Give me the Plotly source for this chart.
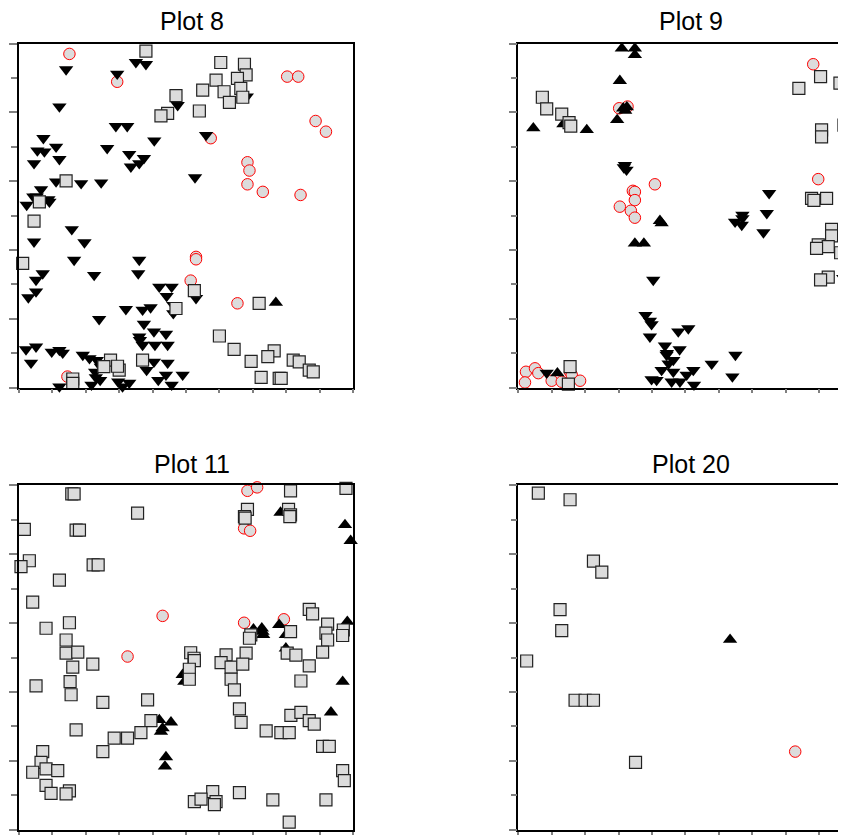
import plotly.graph_objects as go

# ---------------- data (axis units 0..10) ----------------
# Plot 8
p8_circ_x = [1.51, 2.94, 8.03, 8.36, 8.88, 9.19, 5.74, 6.84, 6.90, 6.84, 7.30, 8.43, 5.30, 5.30, 5.14, 6.54, 1.45]
p8_circ_y = [9.70, 8.89, 9.04, 9.04, 7.75, 7.44, 7.25, 6.55, 6.31, 5.91, 5.69, 5.60, 3.80, 3.73, 3.11, 2.45, 0.32]
p8_sq_x = [3.80, 6.04, 6.75, 6.80, 5.90, 6.54, 5.50, 6.14, 6.64, 6.70, 6.30, 4.70, 4.45, 4.25, 5.40,
           1.41, 0.61, 0.45, 0.11, 5.25, 4.70, 7.19, 2.74, 2.54, 3.00, 2.95, 3.70, 1.61, 1.61,
           6.00, 6.44, 6.95, 7.64, 7.45, 7.25, 7.79, 7.85, 8.21, 8.39, 8.69, 8.81]
p8_sq_y = [9.78, 9.45, 9.40, 9.09, 8.94, 8.99, 8.65, 8.60, 8.70, 8.44, 8.29, 8.49, 7.97, 7.90, 8.04,
           6.01, 5.40, 4.84, 3.61, 2.82, 2.30, 2.45, 0.80, 0.61, 0.51, 0.62, 0.80, 0.25, 0.12,
           1.50, 1.11, 0.76, 1.07, 0.90, 0.30, 0.27, 0.27, 0.80, 0.75, 0.51, 0.46]
p8_tup_x = [7.69]
p8_tup_y = [2.47]
p8_tdn_x = [1.41, 3.50, 3.80, 2.94, 6.82, 4.75, 1.21, 2.90, 3.24, 5.60, 4.05, 0.73, 0.55, 0.76, 1.11, 1.21,
            0.45, 2.64, 3.30, 3.74, 3.60, 3.35, 5.27, 1.11, 1.86, 2.46, 0.66, 0.43, 0.88, 0.23, 0.91, 0.53,
            1.58, 1.96, 0.45, 1.65, 3.60, 2.25, 3.57, 0.71, 0.51, 0.51, 0.28,
            4.20, 4.57, 4.42, 4.62, 4.62, 5.30, 3.20, 3.70, 3.94, 2.40, 3.74, 3.60, 3.62, 4.04, 4.40,
            3.70, 4.07, 4.45, 0.21, 0.51, 0.36, 0.98, 1.21, 1.31, 1.91, 2.11, 2.33, 2.28, 2.43, 2.17,
            1.21, 3.10, 2.97, 3.30, 3.82, 4.04, 4.45, 4.17, 4.57, 4.40, 4.90, 2.30, 2.45]
p8_tdn_y = [9.25, 9.46, 9.40, 9.12, 8.46, 8.21, 8.17, 7.60, 7.60, 7.34, 7.18, 7.25, 6.89, 6.86, 7.00, 6.64,
            6.52, 6.96, 6.79, 6.67, 6.52, 6.42, 6.11, 5.99, 5.94, 5.96, 5.76, 5.55, 5.47, 5.31, 5.40, 5.55,
            4.60, 4.22, 4.24, 3.71, 3.71, 3.27, 3.32, 3.32, 3.13, 2.79, 2.62,
            2.93, 2.93, 2.66, 2.40, 2.16, 2.60, 2.28, 2.26, 2.33, 1.99, 1.85, 1.48, 1.38, 1.63, 1.56,
            1.24, 1.24, 1.24, 1.11, 1.19, 0.72, 1.04, 1.09, 1.01, 0.95, 0.85, 0.80, 0.46, 0.22, 0.08,
            0.03, 0.03, 0.17, 0.14, 0.51, 0.75, 0.72, 0.22, 0.08, 0.37, 0.37, 0.30, 0.60]

# Plot 9
p9_circ_x = [3.02, 3.27, 4.09, 3.43, 3.49, 3.49, 3.04, 3.37, 3.49, 8.83, 8.98,
             0.23, 0.50, 0.60, 0.20, 1.00, 1.55, 1.60, 1.85, 1.30]
p9_circ_y = [8.12, 8.17, 5.91, 5.72, 5.69, 5.45, 5.26, 5.14, 4.94, 9.40, 6.06,
             0.46, 0.56, 0.42, 0.15, 0.20, 0.46, 0.37, 0.20, 0.17]
p9_sq_x = [0.72, 0.85, 1.30, 1.52, 1.57, 9.05, 8.40, 9.63, 9.80, 9.08, 9.08, 9.75, 8.78, 8.85, 9.23, 9.90,
           9.38, 9.38, 8.98, 9.28, 8.93, 9.65, 9.28, 9.05, 1.55, 1.50]
p9_sq_y = [8.44, 8.10, 7.95, 7.70, 7.60, 9.04, 8.70, 8.85, 9.21, 7.49, 7.29, 7.63, 5.50, 5.44, 5.50, 5.02,
           4.60, 4.41, 4.15, 4.10, 4.05, 3.92, 3.21, 3.13, 0.61, 0.10]
p9_tup_x = [3.10, 3.49, 3.49, 3.04, 2.96, 3.14, 3.25, 3.20, 0.45, 2.05, 1.35, 4.24, 4.29, 3.49, 3.76, 1.17]
p9_tup_y = [9.86, 9.86, 9.67, 8.92, 7.78, 8.12, 8.15, 8.05, 7.54, 7.49, 7.66, 4.85, 4.78, 4.19, 4.19, 0.42]
p9_tdn_x = [3.19, 3.24, 3.16, 7.51, 6.71, 6.71, 6.49, 6.69, 7.44, 7.34, 9.73, 4.04,
            3.81, 3.94, 3.99, 3.94, 4.79, 5.09, 4.39, 4.83, 4.44, 4.64, 4.29, 4.64, 5.24, 5.04,
            4.14, 4.59, 4.84, 5.26, 5.79, 6.50, 6.41, 3.99, 0.85, 4.50, 4.45]
p9_tdn_y = [6.47, 6.33, 6.40, 5.65, 5.02, 4.92, 4.82, 4.73, 5.07, 4.51, 3.18, 3.13,
            2.11, 1.94, 1.84, 1.48, 1.63, 1.72, 1.22, 1.11, 0.95, 0.80, 0.51, 0.46, 0.51, 0.37,
            0.22, 0.17, 0.17, 0.08, 0.69, 0.95, 0.32, 0.24, 0.43, 0.70, 1.00]

# Plot 11
p11_circ_x = [6.84, 7.13, 6.74, 6.92, 4.30, 6.74, 7.93, 3.25]
p11_circ_y = [9.84, 9.94, 8.75, 8.68, 6.21, 6.01, 6.11, 5.03]
p11_tup_x = [7.83, 9.76, 9.93, 9.83, 7.02, 7.27, 7.31, 7.29, 7.79, 7.99, 7.99,
             4.90, 4.95, 4.20, 4.55, 4.25, 4.30, 4.40, 4.37, 9.69, 9.34]
p11_tup_y = [9.21, 8.85, 8.39, 6.04, 5.82, 5.85, 5.66, 5.75, 5.95, 5.66, 5.27,
             4.50, 4.30, 3.19, 3.12, 2.85, 2.95, 2.11, 1.84, 4.30, 3.41]
p11_sq_x = [1.58, 1.65, 3.55, 0.16, 1.71, 1.81, 0.31, 0.06, 2.22, 2.37, 1.21, 0.41, 1.51, 0.81, 1.41, 1.41, 1.76,
            8.13, 9.79, 6.84, 6.75, 6.77, 8.07, 8.13, 8.11, 6.94, 6.90, 8.13, 8.69, 8.79, 9.24, 9.19, 9.24,
            9.71, 9.69, 9.09, 5.14, 5.24, 6.20, 6.80, 8.03, 8.29,
            1.61, 2.21, 0.51, 1.53, 1.56, 2.51, 3.85, 1.71, 3.95, 2.85, 3.25, 3.65, 2.51, 0.71, 0.66,
            0.81, 0.41, 1.16, 0.81, 0.96, 1.51, 1.41,
            5.25, 5.10, 5.10, 6.05, 6.35, 6.70, 6.35, 6.45, 6.60, 6.65, 7.40, 7.84, 8.09, 8.14, 8.44,
            8.69, 8.84, 8.44, 8.69, 9.09, 9.29, 9.69, 9.74, 9.19, 7.60, 6.60, 5.80, 5.90, 5.25, 5.85,
            5.45, 8.09]
p11_sq_y = [9.75, 9.75, 9.19, 8.72, 8.70, 8.70, 7.81, 7.64, 7.69, 7.69, 7.25, 6.61, 6.01, 5.85, 5.51, 5.13, 5.16,
            9.84, 9.91, 9.30, 9.09, 9.05, 9.30, 9.14, 9.09, 5.66, 5.56, 5.75, 6.40, 6.27, 5.97, 5.71, 5.51,
            5.80, 5.64, 5.16, 5.14, 4.98, 5.08, 5.13, 5.13, 5.07,
            4.72, 4.81, 4.18, 4.30, 3.92, 3.70, 3.77, 2.90, 3.17, 2.66, 2.66, 2.82, 2.27, 2.27, 1.96,
            1.77, 1.67, 1.72, 1.29, 1.06, 1.13, 1.04,
            4.91, 4.66, 4.37, 4.85, 4.72, 4.81, 4.37, 4.06, 3.51, 3.12, 2.87, 2.82, 2.82, 3.32, 3.41,
            3.17, 3.07, 4.32, 4.76, 2.42, 2.42, 1.72, 1.43, 0.87, 0.87, 1.08, 1.11, 0.82, 0.82, 0.73,
            0.89, 0.22]

# Plot 20
p20_sq_x = [0.60, 1.55, 2.25, 2.50, 1.25, 1.30, 0.25, 1.70, 2.00, 2.25, 3.51]
p20_sq_y = [9.77, 9.58, 7.80, 7.48, 6.39, 5.78, 4.90, 3.76, 3.76, 3.76, 1.96]
p20_tup_x = [6.34]
p20_tup_y = [5.52]
p20_circ_x = [8.29]
p20_circ_y = [2.27]

titles = ["Plot 8", "Plot 9", "Plot 11", "Plot 20"]

# ---------------- figure ----------------
# The page body has an 8px margin, so the figure is sized to fill the 846x835 window from (8, 8).
OFF = 8.0
W, H = 838, 827
fig = go.Figure()

GREY = "#dcdcdc"
TICK = "#808080"

def add_panel(k, circ, tdn, tup, sq):
    xa = "x" if k == 1 else f"x{k}"
    ya = "y" if k == 1 else f"y{k}"
    common = dict(mode="markers", xaxis=xa, yaxis=ya, showlegend=False, cliponaxis=False,
                  hoverinfo="skip")
    if circ:
        fig.add_trace(go.Scatter(x=circ[0], y=circ[1], marker=dict(symbol="circle", size=11.5, color=GREY,
                                 line=dict(color="red", width=1)), **common))
    if tdn:
        fig.add_trace(go.Scatter(x=tdn[0], y=tdn[1], marker=dict(symbol="triangle-down", size=12.5, color="black",
                                 line=dict(width=0)), **common))
    if tup:
        fig.add_trace(go.Scatter(x=tup[0], y=tup[1], marker=dict(symbol="triangle-up", size=12.5, color="black",
                                 line=dict(width=0)), **common))
    if sq:
        fig.add_trace(go.Scatter(x=sq[0], y=sq[1], marker=dict(symbol="square", size=12, color=GREY,
                                 line=dict(color="#222222", width=1.2)), **common))

add_panel(1, (p8_circ_x, p8_circ_y), (p8_tdn_x, p8_tdn_y), (p8_tup_x, p8_tup_y), (p8_sq_x, p8_sq_y))
add_panel(2, (p9_circ_x, p9_circ_y), (p9_tdn_x, p9_tdn_y), (p9_tup_x, p9_tup_y), (p9_sq_x, p9_sq_y))
add_panel(3, (p11_circ_x, p11_circ_y), None, (p11_tup_x, p11_tup_y), (p11_sq_x, p11_sq_y))
add_panel(4, (p20_circ_x, p20_circ_y), None, (p20_tup_x, p20_tup_y), (p20_sq_x, p20_sq_y))

# geometry in page pixels, converted to figure pixels
left_l, left_r = 19.0 - OFF, 353.0 - OFF
right_l = 518.3 - OFF
unit_x = (left_r - left_l) / 10.0
right_max = (W - right_l) / unit_x
top_t, top_b = 43.6 - OFF, 387.6 - OFF
bot_t, bot_b = 485.3 - OFF, 829.8 - OFF

panels = [
    (1, [left_l / W, left_r / W], [(H - top_b) / H, (H - top_t) / H], 10.0, True),
    (2, [right_l / W, 1.0], [(H - top_b) / H, (H - top_t) / H], right_max, False),
    (3, [left_l / W, left_r / W], [(H - bot_b) / H, (H - bot_t) / H], 10.0, True),
    (4, [right_l / W, 1.0], [(H - bot_b) / H, (H - bot_t) / H], right_max, False),
]

layout = dict(width=W, height=H, margin=dict(l=0, r=0, t=0, b=0),
              paper_bgcolor="white", plot_bgcolor="white", showlegend=False)

base = dict(showgrid=False, zeroline=False, showticklabels=False, tickmode="array",
            tickcolor=TICK, tickwidth=1.5, fixedrange=True)

for k, xdom, ydom, xmax, ymirror in panels:
    xn = "xaxis" if k == 1 else f"xaxis{k}"
    yn = "yaxis" if k == 1 else f"yaxis{k}"
    xr = "x" if k == 1 else f"x{k}"
    yr = "y" if k == 1 else f"y{k}"
    xt = [v for v in range(0, 11) if v <= xmax + 1e-9]
    layout[xn] = dict(base, domain=xdom, range=[0, xmax], anchor=yr, showline=True, linecolor="black",
                      linewidth=1.5, mirror=True, ticks="outside", ticklen=4, tickvals=xt)
    layout[yn] = dict(base, domain=ydom, range=[0, 10], anchor=xr, showline=True, linecolor="black",
                      linewidth=1.5, mirror=ymirror, ticks="outside", ticklen=8,
                      tickvals=[0, 2, 4, 6, 8, 10],
                      minor=dict(tickvals=[1, 3, 5, 7, 9], ticks="outside", ticklen=6,
                                 tickcolor=TICK, tickwidth=1.5))
    # overlay axes so the ticks cross the axis line
    ox, oy = 4 + k, 4 + k
    layout[f"xaxis{ox}"] = dict(base, overlaying=xr, anchor=yr, side="bottom", range=[0, xmax],
                                showline=False, ticks="inside", ticklen=6, tickvals=xt)
    layout[f"yaxis{oy}"] = dict(base, overlaying=yr, anchor=xr, side="left", range=[0, 10],
                                showline=False, ticks="inside", ticklen=8,
                                tickvals=[0, 2, 4, 6, 8, 10],
                                minor=dict(tickvals=[1, 3, 5, 7, 9], ticks="inside", ticklen=6,
                                           tickcolor=TICK, tickwidth=1.5))

fig.update_layout(**layout)

title_pos = [(191.5, 21.5), (690.5, 21.5), (191.5, 463.5), (690.5, 463.5)]
for t, (px, py) in zip(titles, title_pos):
    fig.add_annotation(text=t, x=(px - OFF) / W, y=1 - (py - OFF) / H, xref="paper", yref="paper",
                       xanchor="center", yanchor="middle", showarrow=False,
                       font=dict(family="Liberation Sans, Arial, sans-serif", size=25, color="black"))

fig.write_html("out.html")
